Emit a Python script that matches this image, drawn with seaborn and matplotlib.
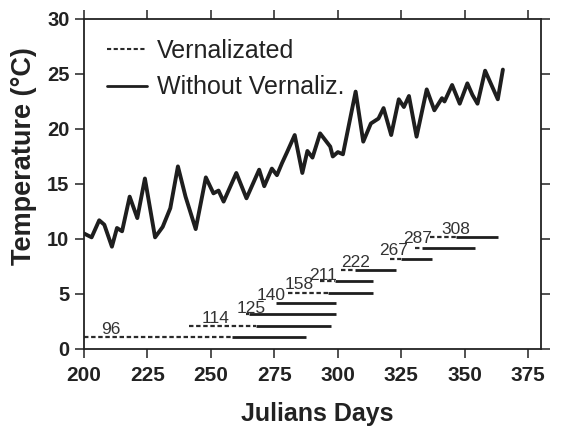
import numpy as np
import pandas as pd
import matplotlib
matplotlib.use("Agg")
import matplotlib.pyplot as plt
import seaborn as sns
from matplotlib.lines import Line2D

# ---- data ----
days = [200, 203, 206, 208, 211, 213, 215, 218, 221, 224, 228, 231, 234, 237, 240,
        244, 248, 251, 253, 255, 260, 264, 269, 271, 274, 276, 278, 280, 283, 286,
        288, 290, 293, 297, 298, 300, 302, 307, 310, 313, 316, 318, 321, 324, 326,
        328, 331, 335, 338, 341, 342, 345, 348, 351, 353, 355, 358, 363, 365]
temps = [10.5, 10.15, 11.7, 11.3, 9.3, 11.0, 10.7, 13.85, 11.9, 15.5, 10.15, 11.1, 12.8, 16.6, 13.85,
         10.9, 15.6, 14.15, 14.4, 13.4, 16.0, 13.7, 16.3, 14.8, 16.4, 15.8, 16.9, 17.9, 19.45, 16.0,
         18.0, 17.4, 19.6, 18.4, 17.5, 17.9, 17.7, 23.4, 18.85, 20.5, 20.95, 21.9, 19.45, 22.7, 22.0,
         23.0, 19.3, 23.6, 21.7, 22.8, 22.5, 24.0, 22.3, 24.15, 23.1, 22.3, 25.3, 22.7, 25.4]

row_labels = [96, 114, 125, 140, 158, 211, 222, 267, 287, 308]
row_level = [1.1, 2.1, 3.15, 4.15, 5.1, 6.15, 7.15, 8.15, 9.15, 10.15]
vern_start = [200, 241.5, 263.8, 275.7, 280.3, 292.8, 301.3, 320.4, 330.3, 336.2]
vern_end = [258.4, 267.8, 265.0, 275.7, 296.0, 298.7, 306.6, 325.0, 333.0, 346.7]
novern_end = [287.6, 297.4, 299.4, 299.4, 313.8, 313.8, 322.8, 336.9, 354.0, 363.2]
label_day = [210.7, 252.0, 266.0, 273.7, 284.9, 294.0, 307.0, 322.0, 331.3, 346.4]
label_temp = [1.75, 2.8, 3.7, 4.9, 5.85, 6.7, 7.9, 8.95, 10.05, 10.9]

x_ticks = [200, 225, 250, 275, 300, 325, 350, 375]
y_ticks = [0, 5, 10, 15, 20, 25, 30]

# ---- style ----
sns.set_theme(style="ticks")
plt.rcParams['font.family'] = ['Liberation Sans', 'DejaVu Sans']

fig = plt.figure(figsize=(5.61, 4.26), dpi=100)
ax = fig.add_axes([0.1497, 0.1808, 0.8146, 0.7746])

df = pd.DataFrame({"day": days, "temp": temps})
sns.lineplot(data=df, x="day", y="temp", ax=ax, color="#1e1e1e", lw=2.8,
             solid_joinstyle="round", sort=False)

dash_style = (0, (2.0, 1.2))
ax.hlines(row_level, vern_start, vern_end, colors="#2a2a2a", linewidth=1.6,
          linestyles=[dash_style])
ax.hlines(row_level, vern_end, novern_end, colors="#1e1e1e", linewidth=2.0)

for lab, xd, yt in zip(row_labels, label_day, label_temp):
    ax.text(xd, yt, str(lab), ha="center", va="center", fontsize=12.5, color="#333333")

ax.set_xlim(200, 380)
ax.set_ylim(0, 30)
ax.set_xticks(x_ticks)
ax.set_yticks(y_ticks)
ax.tick_params(which="both", direction="out", length=6.5, width=1.1, color="#222222",
               top=True, right=True, labeltop=False, labelright=False)
ax.tick_params(axis="x", labelsize=15, pad=6)
ax.tick_params(axis="y", labelsize=14.5, pad=4)
for lbl in ax.get_xticklabels() + ax.get_yticklabels():
    lbl.set_fontweight("bold")
    lbl.set_color("#222222")
for sp in ax.spines.values():
    sp.set_linewidth(1.3)
    sp.set_color("#222222")
    sp.set_visible(True)

ax.set_xlabel("Julians Days", fontsize=18, fontweight="bold", color="#222222")
ax.xaxis.set_label_coords(0.51, -0.16)
ax.set_ylabel("Temperature (°C)", fontsize=19.5, fontweight="bold", color="#222222", va="center")
ax.yaxis.set_label_coords(-0.131, 0.585)

handles = [Line2D([], [], color="#2a2a2a", lw=1.5, linestyle=dash_style),
           Line2D([], [], color="#1e1e1e", lw=2.0)]
leg = ax.legend(handles, ["Vernalizated", "Without Vernaliz."], loc="upper left",
                bbox_to_anchor=(0.05, 0.94), frameon=False, fontsize=18,
                handlelength=1.6, handletextpad=0.4, labelspacing=0.5,
                borderpad=0, borderaxespad=0)
for t in leg.get_texts():
    t.set_color("#222222")

fig.savefig("out.png", dpi=100)
